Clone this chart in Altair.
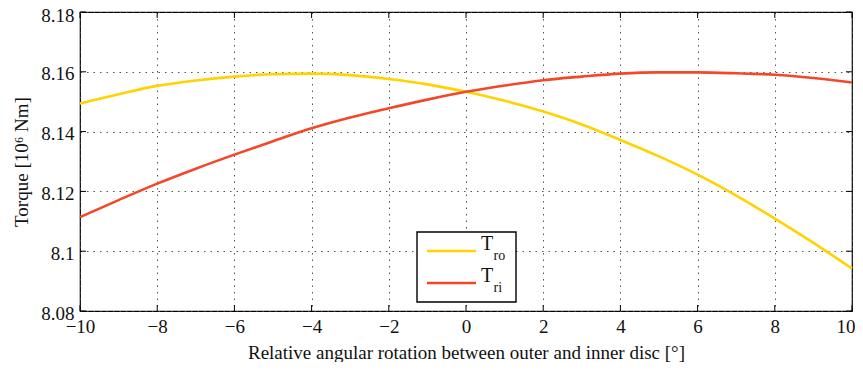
import altair as alt
import pandas as pd

# ---- data ----
angle = [-10, -9, -8, -7, -6, -5, -4, -3, -2, -1, 0, 1, 2, 3, 4, 5, 6, 7, 8, 9, 10]
T_ro = [8.1494, 8.1525, 8.1553, 8.1571, 8.1584, 8.1592, 8.1594, 8.1589, 8.1576, 8.1558,
        8.1533, 8.1503, 8.1467, 8.1424, 8.1372, 8.1317, 8.1256, 8.1186, 8.1109, 8.1028, 8.0942]
T_ri = [8.1114, 8.1171, 8.1226, 8.1276, 8.1323, 8.1368, 8.1411, 8.1447, 8.1478, 8.1507,
        8.1533, 8.1554, 8.1572, 8.1584, 8.1594, 8.1598, 8.1598, 8.1595, 8.1590, 8.1579, 8.1564]
series_names = ["T_ro", "T_ri"]
series_colors = ["#FFD200", "#F4472A"]
x_ticks = [-10, -8, -6, -4, -2, 0, 2, 4, 6, 8, 10]
y_ticks = [8.08, 8.10, 8.12, 8.14, 8.16, 8.18]

W, H = 772, 299
FONT = "Liberation Serif"
FS = 19

df = pd.DataFrame({
    "angle": angle * 2,
    "torque": T_ro + T_ri,
    "series": [series_names[0]] * len(angle) + [series_names[1]] * len(angle),
})
xt = pd.DataFrame({"v": x_ticks})
yt = pd.DataFrame({"v": y_ticks})

xscale = alt.Scale(domain=[-10, 10], nice=False, zero=False)
yscale = alt.Scale(domain=[8.08, 8.18], nice=False, zero=False)

lines = alt.Chart(df).mark_line(strokeWidth=2.6, interpolate="monotone").encode(
    x=alt.X("angle:Q", scale=xscale,
            axis=alt.Axis(values=x_ticks, format="d", tickSize=0, labelPadding=6,
                          labelAlign={"condition": {"test": "datum.value >= 10", "value": "right"},
                                      "value": "center"},
                          labelOffset={"condition": {"test": "datum.value >= 10", "value": 3},
                                       "value": 0},
                          title="Relative angular rotation between outer and inner disc [°]",
                          titlePadding=7)),
    y=alt.Y("torque:Q", scale=yscale,
            axis=alt.Axis(values=y_ticks, labelExpr="format(datum.value, '.2~f')",
                          tickSize=0, labelPadding=6,
                          labelOffset={"condition": {"test": "datum.value >= 8.179", "value": 3},
                                       "value": 2},
                          title="Torque [10⁶ Nm]", titlePadding=9)),
    color=alt.Color("series:N", scale=alt.Scale(domain=series_names, range=series_colors),
                    legend=None),
)

tick_len = 6
tb = alt.Chart(xt).mark_rule(color="black", strokeWidth=1).encode(
    x=alt.X("v:Q", scale=xscale), y=alt.value(H), y2=alt.value(H - tick_len))
tt = alt.Chart(xt).mark_rule(color="black", strokeWidth=1).encode(
    x=alt.X("v:Q", scale=xscale), y=alt.value(0), y2=alt.value(tick_len))
tl = alt.Chart(yt).mark_rule(color="black", strokeWidth=1).encode(
    y=alt.Y("v:Q", scale=yscale), x=alt.value(0), x2=alt.value(tick_len))
tr = alt.Chart(yt).mark_rule(color="black", strokeWidth=1).encode(
    y=alt.Y("v:Q", scale=yscale), x=alt.value(W), x2=alt.value(W - tick_len))

# ---- manual legend (for subscripts) ----
leg = pd.DataFrame({"series": series_names, "main": ["T", "T"], "sub": ["ro", "ri"],
                    "row": [0, 1]})
box = alt.Chart(pd.DataFrame({"a": [0]})).mark_rect(
    fill="white", stroke="black", strokeWidth=1.4).encode(
    x=alt.value(337), x2=alt.value(436), y=alt.value(220), y2=alt.value(290))
leg_y = [239, 271]
leg_lines = [
    alt.Chart(leg[leg.row == i]).mark_rule(strokeWidth=2.6).encode(
        x=alt.value(347), x2=alt.value(396), y=alt.value(leg_y[i]),
        color=alt.Color("series:N", scale=alt.Scale(domain=series_names, range=series_colors),
                        legend=None))
    for i in range(2)
]
leg_T = [
    alt.Chart(leg[leg.row == i]).mark_text(
        font=FONT, fontSize=20, align="left", baseline="alphabetic", color="#111111").encode(
        x=alt.value(401), y=alt.value(leg_y[i] - 1), text="main:N")
    for i in range(2)
]
leg_sub = [
    alt.Chart(leg[leg.row == i]).mark_text(
        font=FONT, fontSize=14, align="left", baseline="alphabetic", color="#111111").encode(
        x=alt.value(413.5), y=alt.value(leg_y[i] + 9), text="sub:N")
    for i in range(2)
]

chart = alt.layer(lines, tb, tt, tl, tr, box, *leg_lines, *leg_T, *leg_sub).properties(
    width=W, height=H,
    autosize=alt.AutoSizeParams(type="none"),
    padding={"left": 72, "top": 4, "right": 3, "bottom": 51},
).configure_view(
    stroke="black", strokeWidth=1.2
).configure_axis(
    domain=False,
    grid=True, gridColor="#444444", gridDash=[1.5, 5], gridWidth=1, gridOpacity=0.9,
    labelFont=FONT, labelFontSize=FS, labelColor="#111111",
    titleFont=FONT, titleFontSize=FS, titleFontWeight="normal", titleColor="#111111",
).configure_axisX(labelFlush=False)

chart.save("out.html", embed_options={"renderer": "svg", "actions": False})
